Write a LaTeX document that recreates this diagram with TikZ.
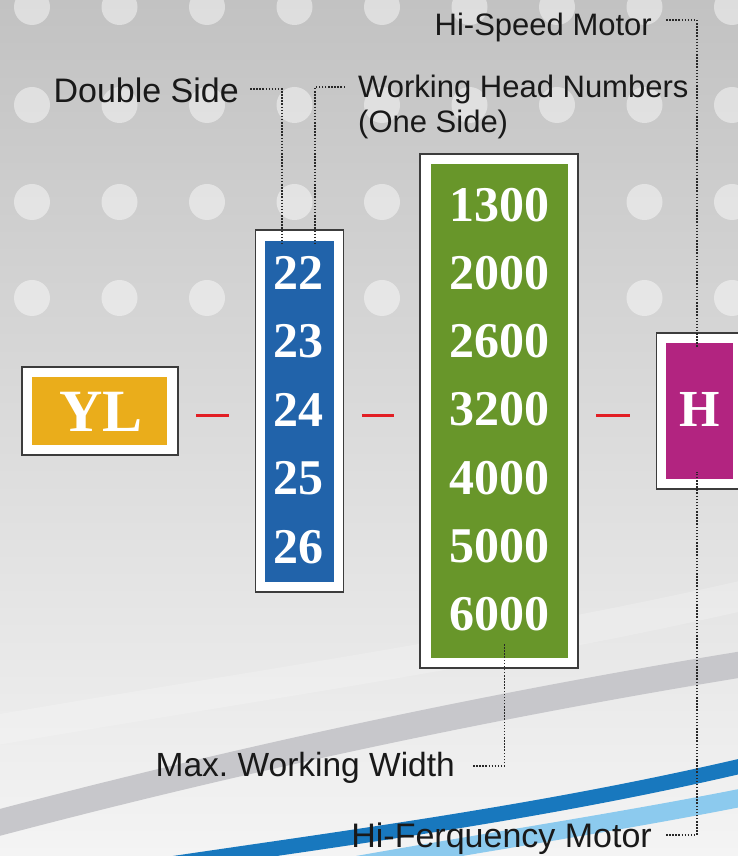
\documentclass[tikz,border=0pt]{standalone}
\usepackage{fontspec}
\setmainfont{Liberation Serif}
\newfontfamily\lblfont{Liberation Sans}
\usetikzlibrary{positioning}

\definecolor{bgtop}{RGB}{194,194,194}
\definecolor{bgmid}{RGB}{208,208,208}
\definecolor{bgbot}{RGB}{244,244,244}
\definecolor{swgray}{RGB}{199,199,203}
\definecolor{swblue}{RGB}{24,120,190}
\definecolor{swlight}{RGB}{140,202,238}
\definecolor{ylorange}{RGB}{234,173,27}
\definecolor{headblue}{RGB}{33,99,170}
\definecolor{widthgreen}{RGB}{104,150,42}
\definecolor{motormag}{RGB}{178,36,128}
\definecolor{boxedge}{RGB}{60,60,60}
\definecolor{leadgray}{RGB}{40,40,40}
\definecolor{dashred}{RGB}{226,30,36}

\begin{document}
\begin{tikzpicture}[x=1pt,y=1pt,
  frame/.style={draw=boxedge,fill=white,line width=1.5pt,inner sep=0pt},
  plate/.style={inner sep=0pt,text=white,font=\bfseries},
  num/.style={inner sep=0pt,text=white,font=\fontsize{50}{50}\selectfont\bfseries},
  lbl/.style={inner sep=0pt,text=black!90,font=\lblfont\fontsize{#1}{#1}\selectfont},
  lbl/.default=31,
  lead/.style={draw=leadgray,line width=1.6pt,dash pattern=on 1.5pt off 1.6pt},
  sep/.style={draw=dashred,line width=3pt,shorten <=17.5pt,shorten >=25.5pt},
  dot/.style={fill=white,fill opacity=0.45}]

\useasboundingbox (0,0) rectangle (738,856);
\clip (0,0) rectangle (738,856);

% background
\shade[top color=bgtop,middle color=bgmid,bottom color=bgbot] (0,0) rectangle (738,856);
\foreach \y in {849,751,654,558}
  \foreach \k in {0,...,8}
    \fill[dot] (32+87.5*\k,\y) circle (18);
\draw[white,line width=30pt,opacity=0.2] (-10,125) .. controls (250,170) and (500,205) .. (750,262);
\draw[swgray,line width=26pt] (-10,31) .. controls (243,98) and (497,152) .. (750,193);
\draw[swblue,line width=15pt] (170,-8) .. controls (360,20) and (550,45) .. (750,92);
\draw[swlight,line width=18pt] (340,-12) .. controls (485,14) and (620,34) .. (750,60);

% boxes
\node[frame,minimum width=156pt,minimum height=88pt] (yl) at (100,445) {};
\node[plate,fill=ylorange,minimum width=135pt,minimum height=68pt] (ylin) at (99.5,445) {};
\node[plate,font=\fontsize{60}{60}\selectfont\bfseries] (yltxt) at (101,444) {YL};

\node[frame,minimum width=88pt,minimum height=362pt] (heads) at (299.5,445) {};
\node[plate,fill=headblue,minimum width=69pt,minimum height=341pt] (headsin) at (299.5,444.5) {};
\foreach \n [count=\i from 0] in {22,23,24,25,26}
  \node[num] (hd\n) at (298,583-68.5*\i) {\n};

\node[frame,minimum width=158pt,minimum height=514pt] (width) at (499,445) {};
\node[plate,fill=widthgreen,minimum width=137.5pt,minimum height=494pt] (widthin) at (499.25,445) {};
\foreach \n [count=\i from 0] in {1300,2000,2600,3200,4000,5000,6000}
  \node[num] (w\n) at (499,651-68.2*\i) {\n};

\node[frame,minimum width=86pt,minimum height=156pt] (motor) at (699.5,445) {};
\node[plate,fill=motormag,minimum width=67pt,minimum height=136pt] (motorin) at (699.5,445) {};
\node[plate,font=\fontsize{52}{52}\selectfont\bfseries] (mtxt) at (700,447) {H};

% red separators
\draw[sep] ([yshift=-5pt]yl.east) -- ([yshift=-5pt]heads.west);
\draw[sep] ([yshift=-5pt]heads.east) -- ([yshift=-5pt]width.west);
\draw[sep] ([yshift=-5pt]width.east) -- ([yshift=-5pt]motor.west);

% labels
\node[lbl,anchor=base east] (hspeed) at (652,820) {Hi-Speed Motor};
\node[lbl=34,anchor=base east] (dside) at (239,753) {Double Side};
\node[lbl,anchor=base west] (whn) at (358,758) {Working Head Numbers};
\node[lbl,anchor=base west] (oside) at ([yshift=-35pt]whn.base west) {(One Side)};
\node[lbl=33.5,anchor=base east] (mww) at (455,79) {Max.\ Working Width};
\node[lbl=34,anchor=base east] (hfreq) at (652,9) {Hi-Ferquency Motor};

% leaders
\coordinate (hsend) at (697,508);
\coordinate (dsend) at (282,611);
\coordinate (whend) at (315,611);
\coordinate (mwend) at (504.5,213);
\coordinate (hfend) at (697,384);
\draw[lead] ([xshift=14pt,yshift=16pt]hspeed.base east) -| (hsend);
\draw[lead] ([xshift=11pt,yshift=14pt]dside.base east) -| (dsend);
\draw[lead] ([xshift=-13pt,yshift=11pt]whn.base west) -| (whend);
\draw[lead] ([xshift=18pt,yshift=11pt]mww.base east) -| (mwend);
\draw[lead] ([xshift=14pt,yshift=12pt]hfreq.base east) -| (hfend);
\end{tikzpicture}
\end{document}
